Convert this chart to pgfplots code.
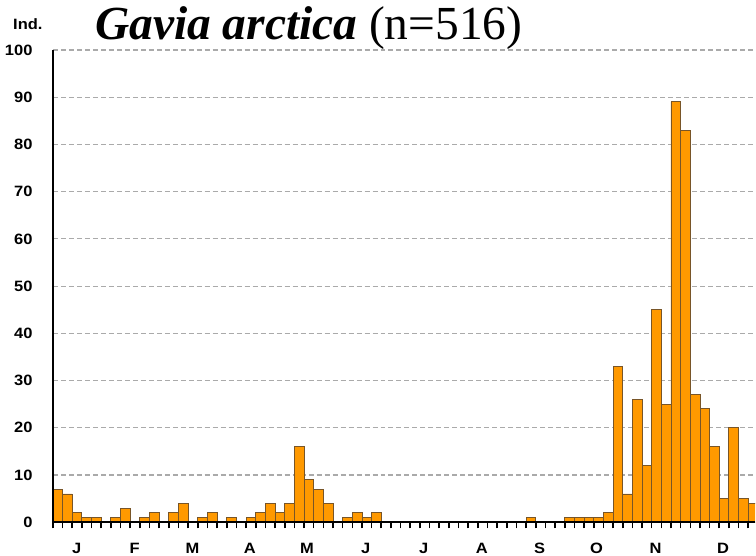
\documentclass[border=0pt]{standalone}
\usepackage{fontspec}
\setmainfont{Liberation Sans}
\newfontfamily\lab{Liberation Sans}[FakeStretch=1.1]
\newfontfamily\tms{Liberation Serif}
\usepackage{pgfplots}
\usepackage{pgfplotstable}
\pgfplotsset{compat=1.18}
\definecolor{barfill}{RGB}{255,153,0}
\definecolor{barline}{RGB}{120,85,40}
\definecolor{gridc}{RGB}{170,170,170}
\pgfplotsset{
  layers/mylayers/.define layer set={axis background,axis grid,main,axis ticks,axis lines,axis tick labels,axis descriptions,axis foreground}{/pgfplots/layers/standard},
}
\pgfplotstableread{
x y
0.5 7
1.5 6
2.5 2
3.5 1
4.5 1
5.5 0
6.5 1
7.5 3
8.5 0
9.5 1
10.5 2
11.5 0
12.5 2
13.5 4
14.5 0
15.5 1
16.5 2
17.5 0
18.5 1
19.5 0
20.5 1
21.5 2
22.5 4
23.5 2
24.5 4
25.5 16
26.5 9
27.5 7
28.5 4
29.5 0
30.5 1
31.5 2
32.5 1
33.5 2
34.5 0
35.5 0
36.5 0
37.5 0
38.5 0
39.5 0
40.5 0
41.5 0
42.5 0
43.5 0
44.5 0
45.5 0
46.5 0
47.5 0
48.5 0
49.5 1
50.5 0
51.5 0
52.5 0
53.5 1
54.5 1
55.5 1
56.5 1
57.5 2
58.5 33
59.5 6
60.5 26
61.5 12
62.5 45
63.5 25
64.5 89
65.5 83
66.5 27
67.5 24
68.5 16
69.5 5
70.5 20
71.5 5
72.5 4
}\pentads
\begin{document}
\begin{tikzpicture}
\begin{axis}[
  set layers=mylayers,
  at={(53pt,33pt)}, anchor=south west,
  scale only axis, width=703pt, height=473pt,
  xmin=0, xmax=72.7, ymin=0, ymax=100,
  axis x line*=bottom, axis y line*=left,
  axis line style={line width=2pt, black, -},
  ytick={0,10,...,100},
  /pgf/number format/assume math mode=true,
  ymajorgrids,
  grid style={gridc, line width=1.2pt, dash pattern=on 5pt off 3pt},
  xtick={2.45,8.45,14.45,20.4,26.3,32.4,38.4,44.4,50.4,56.3,62.4,69.4},
  xticklabels={J,F,M,A,M,J,J,A,S,O,N,D},
  minor xtick={0,1,...,72},
  major x tick style={draw=none},
  major y tick style={draw=none},
  minor x tick style={line width=1.6pt, black},
  minor tick length=6pt,
  tick align=outside,
  xticklabel style={anchor=base, inner sep=0pt, yshift=-27pt, font=\lab\bfseries\fontsize{15}{15}\selectfont},
  yticklabel style={anchor=east, inner sep=0pt, xshift=-16pt, font=\lab\bfseries\fontsize{15}{15}\selectfont},
]
\addplot[ybar, bar width=1, fill=barfill, draw=barline, line width=0.9pt] table[x=x,y=y] {\pentads};
\end{axis}
\node[anchor=base west, inner sep=0pt] at (13pt,526pt) {\lab\bfseries\fontsize{15}{15}\selectfont Ind.};
\node[anchor=base west, inner sep=0pt] at (95pt,516pt) {\tms\fontsize{47.5}{47.5}\selectfont\textbf{\textit{Gavia arctica}} (n=516)};
\path (0,0) rectangle (756pt,556pt);
\end{tikzpicture}
\end{document}
